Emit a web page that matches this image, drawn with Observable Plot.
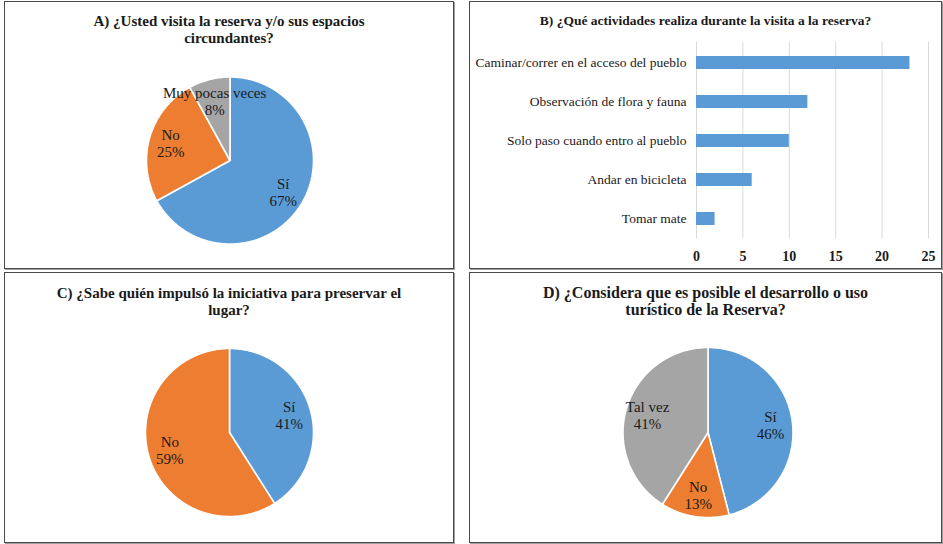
<!DOCTYPE html>
<html><head><meta charset="utf-8">
<script src="https://cdn.jsdelivr.net/npm/d3@7"></script>
<script src="https://cdn.jsdelivr.net/npm/@observablehq/plot@0.6"></script>
<style>
body{margin:0;background:#fff;}
#root{position:relative;width:943px;height:544px;overflow:hidden;font-family:"Liberation Serif","Times New Roman",serif;color:#1a1a1a;}
.frame{position:absolute;box-sizing:border-box;border:1px solid #4a4a4a;box-shadow:1px 1px 0 #a0a0a0;}
.title{position:absolute;text-align:center;font-weight:bold;font-size:15px;line-height:17px;white-space:nowrap;}
.chart{position:absolute;}
.chart svg{overflow:visible;background:transparent;}
g[aria-label^="x-axis"] text{font-weight:bold;font-size:14px;}
</style></head><body><div id="root"></div>
<script>
// ---- data ----
const pieALabels = ["Sí", "No", "Muy pocas veces"];
const pieAValues = [67, 25, 8];
const activities = ["Caminar/correr en el acceso del pueblo", "Observación de flora y fauna", "Solo paso cuando entro al pueblo", "Andar en bicicleta", "Tomar mate"];
const activityCounts = [23, 12, 10, 6, 2];
const xTicks = [0, 5, 10, 15, 20, 25];
const pieCLabels = ["Sí", "No"];
const pieCValues = [41, 59];
const pieDLabels = ["Sí", "No", "Tal vez"];
const pieDValues = [46, 13, 41];

const titles = {
  A: "A) ¿Usted visita la reserva y/o sus espacios<br>circundantes?",
  B: "B) ¿Qué actividades realiza durante la visita a la reserva?",
  C: "C) ¿Sabe quién impulsó la iniciativa para preservar el<br>lugar?",
  D: "D) ¿Considera que es posible el desarrollo o uso<br>turístico de la Reserva?"
};

// ---- styles ----
const BLUE = "#5B9BD5", ORANGE = "#ED7D31", GRAY = "#A5A5A5";
const root = document.getElementById("root");

const panels = {
  A: {left: 4, top: 1, w: 450, h: 268},
  B: {left: 469, top: 1, w: 473, h: 268},
  C: {left: 4, top: 272, w: 450, h: 271},
  D: {left: 469, top: 272, w: 473, h: 271}
};

function addFrame(p) {
  const d = document.createElement("div");
  d.className = "frame";
  Object.assign(d.style, {left: p.left + "px", top: p.top + "px", width: p.w + "px", height: p.h + "px"});
  root.appendChild(d);
}
function addTitle(p, html, top, size) {
  const d = document.createElement("div");
  d.className = "title";
  d.innerHTML = html;
  Object.assign(d.style, {left: p.left + "px", top: top + "px", width: p.w + "px"});
  if (size) d.style.fontSize = size + "px";
  root.appendChild(d);
}
function addChart(p, svg) {
  const d = document.createElement("div");
  d.className = "chart";
  Object.assign(d.style, {left: p.left + "px", top: p.top + "px"});
  d.appendChild(svg);
  root.appendChild(d);
}

function pieChart(labels, values, colors, p, cx, cy, r) {
  const arcs = d3.pie().sort(null).value(d => d)(values);
  const marks = arcs.map((a, i) => {
    const pts = [[0, 0]];
    const n = Math.max(2, Math.ceil((a.endAngle - a.startAngle) / 0.01));
    for (let k = 0; k <= n; k++) {
      const t = a.startAngle + (a.endAngle - a.startAngle) * k / n;
      pts.push([Math.sin(t), Math.cos(t)]);
    }
    pts.push([0, 0]);
    return Plot.line(pts, {x: d => d[0], y: d => d[1], fill: colors[i], stroke: "white", strokeWidth: 1.6, strokeLinejoin: "miter"});
  });
  const lab = arcs.map((a, i) => {
    const m = (a.startAngle + a.endAngle) / 2;
    return {x: 0.74 * Math.sin(m), y: 0.74 * Math.cos(m), text: labels[i] + "\n" + values[i] + "%"};
  });
  marks.push(Plot.text(lab, {x: "x", y: "y", text: "text", fontSize: 15, fontFamily: "Liberation Serif", fill: "#1a1a1a", lineHeight: 1.13}));
  return Plot.plot({
    width: p.w, height: p.h, margin: 0,
    style: {background: "transparent", overflow: "visible"},
    x: {domain: [-1, 1], range: [cx - r, cx + r], axis: null},
    y: {domain: [-1, 1], range: [cy + r, cy - r], axis: null},
    marks
  });
}

// frames
for (const k of ["A", "B", "C", "D"]) addFrame(panels[k]);

// A
addChart(panels.A, pieChart(pieALabels, pieAValues, [BLUE, ORANGE, GRAY], panels.A, 225.5, 159, 83.5));
addTitle(panels.A, titles.A, 12.5);

// B
const barData = activities.map((a, i) => ({activity: a, count: activityCounts[i]}));
const barPlot = Plot.plot({
  width: panels.B.w, height: panels.B.h,
  marginLeft: 227, marginRight: 14, marginTop: 41, marginBottom: 31,
  style: {fontFamily: "Liberation Serif", fontSize: "13.5px", color: "#1a1a1a", background: "transparent", overflow: "visible"},
  x: {domain: [0, 25], ticks: xTicks, tickSize: 0, tickPadding: 13, label: null},
  y: {domain: activities, padding: 0, tickSize: 0, tickPadding: 10, label: null},
  marks: [
    Plot.ruleX(xTicks, {stroke: "#d9d9d9", strokeWidth: 1}),
    Plot.barX(barData, {x: "count", y: "activity", fill: BLUE, insetTop: 13, insetBottom: 13})
  ]
});
addChart(panels.B, barPlot);
addTitle(panels.B, titles.B, 11.5, 13.5);

// C
addChart(panels.C, pieChart(pieCLabels, pieCValues, [BLUE, ORANGE], panels.C, 225, 160, 84));
addTitle(panels.C, titles.C, 284.5);

// D
addChart(panels.D, pieChart(pieDLabels, pieDValues, [BLUE, ORANGE, GRAY], panels.D, 238.5, 160, 85));
addTitle(panels.D, titles.D, 284, 16);
</script>
</body></html>
